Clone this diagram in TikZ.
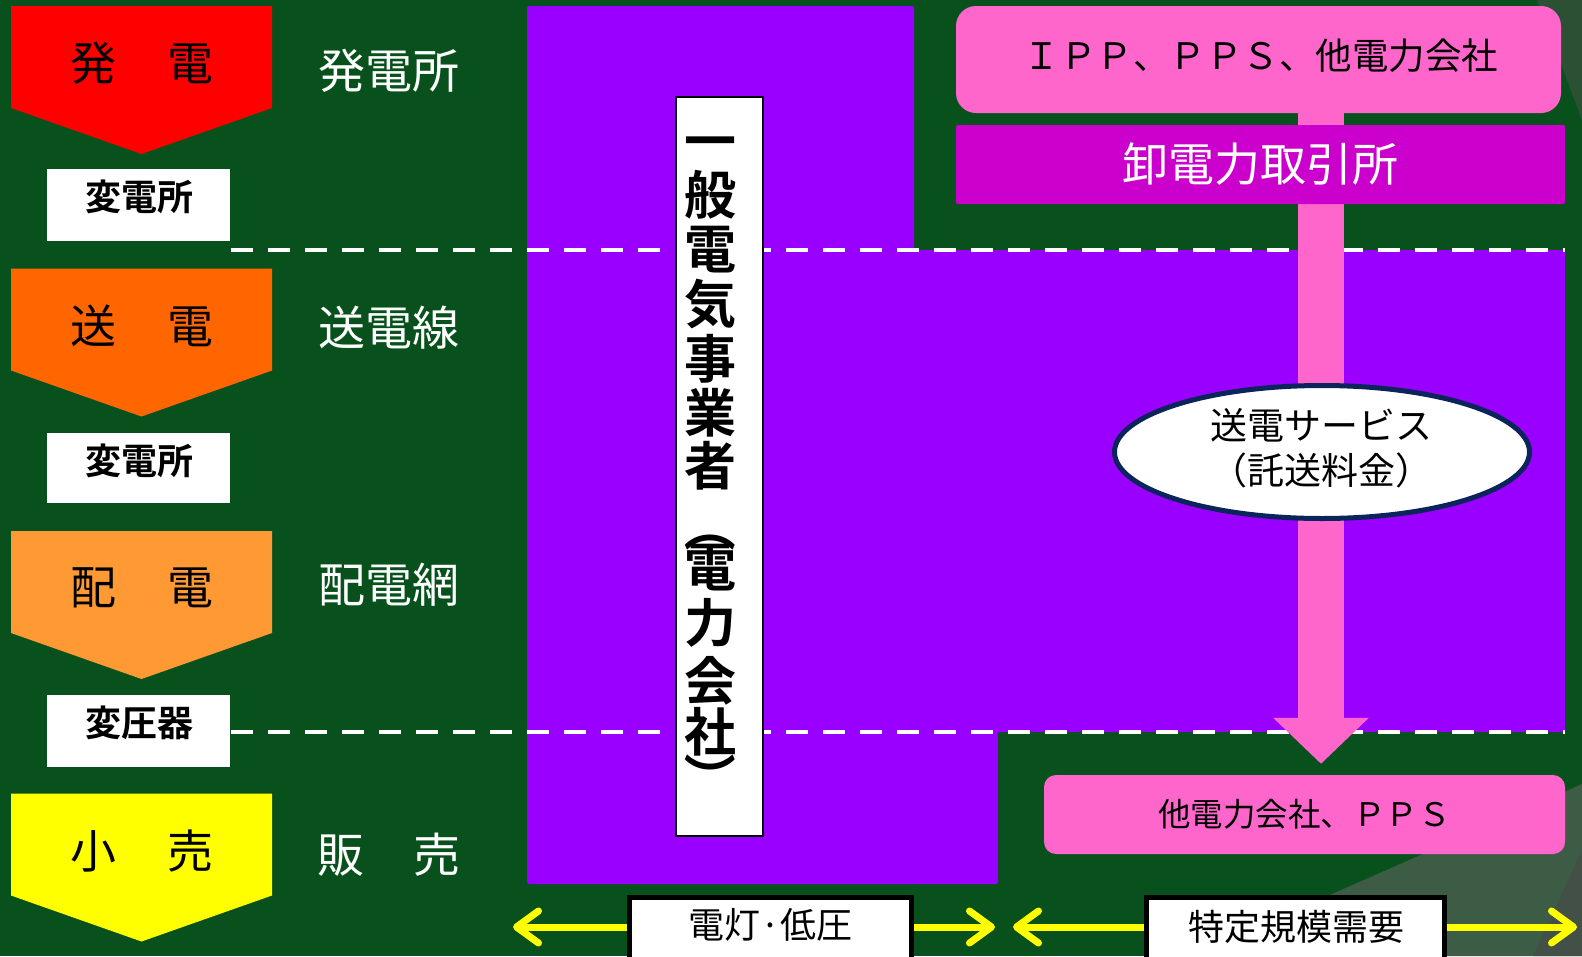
\documentclass[tikz,border=0pt]{standalone}
\usepackage{fontspec}
\setmainfont{Noto Sans CJK JP}[BoldFont={Noto Sans CJK JP Bold}]
\usetikzlibrary{arrows.meta,shapes.geometric}
\definecolor{bggreen}{RGB}{8,81,28}
\definecolor{bglight}{RGB}{61,92,69}
\definecolor{bgdark}{RGB}{66,80,72}
\definecolor{bgtop}{RGB}{44,80,52}
\definecolor{genred}{RGB}{255,0,0}
\definecolor{traorange}{RGB}{255,102,0}
\definecolor{disorange}{RGB}{255,153,51}
\definecolor{retyellow}{RGB}{255,255,0}
\definecolor{epurple}{RGB}{153,0,255}
\definecolor{epink}{RGB}{255,102,204}
\definecolor{emagenta}{RGB}{204,0,204}
\definecolor{enavy}{RGB}{12,36,92}
\newcommand{\fsz}[1]{\fontsize{#1}{#1}\selectfont}
\tikzset{
  stagetext/.style={font=\fsz{46}, text=black, inner sep=0pt},
  sidelabel/.style={font=\fsz{47}, text=white, inner sep=0pt},
  subbox/.style={fill=white, minimum width=183pt, inner sep=0pt},
  subtext/.style={font=\fsz{36}\bfseries, text=black, inner sep=0pt},
  dashline/.style={white, line width=4pt, dash pattern=on 22pt off 15pt},
  pinkbox/.style={fill=epink, inner sep=0pt, text=black},
  vchar/.style={font=\fsz{52}\bfseries, text=black, inner sep=0pt},
  lowbox/.style={fill=white, draw=black, line width=5pt, inner sep=0pt, minimum height=72pt},
  lowtext/.style={font=\fsz{36}, text=black, inner sep=0pt},
  yarrow/.style={draw=retyellow, line width=7pt, -{Straight Barb[length=22pt,width=32pt,round]}},
}
\begin{document}
\begin{tikzpicture}[x=1pt,y=-1pt]
\useasboundingbox (0,0) rectangle (1582,956);
% background
\fill[bggreen] (0,0) rectangle (1582,956);
\fill[bglight] (1191,956) -- (1582,784) -- (1582,956) -- cycle;
\fill[bgdark] (1533,956) -- (1582,850) -- (1582,956) -- cycle;
\fill[bgtop] (1537,0) -- (1582,0) -- (1582,120) -- cycle;
% stage pentagons
\foreach \yy/\cc in {6/genred, 268.5/traorange, 531/disorange, 793.5/retyellow}
  \fill[\cc] (11,\yy) -- (272,\yy) -- (272,\yy+102) -- (141.5,\yy+148) -- (11,\yy+102) -- cycle;
\node[stagetext] (gen) at (142,63) {発\hspace{52pt}電};
\node[stagetext] (tra) at (142,326) {送\hspace{52pt}電};
\node[stagetext] (dis) at (142,588) {配\hspace{52pt}電};
\node[stagetext] (ret) at (142,851) {小\hspace{52pt}売};
% side labels
\node[sidelabel] (lgen) at (389,71) {発電所};
\node[sidelabel] (ltra) at (389,328) {送電線};
\node[sidelabel] (ldis) at (389,585) {配電網};
\node[sidelabel] (lret) at (389,855) {販\hspace{50pt}売};
% substations
\node[subbox, minimum height=72pt] (sub1) at (138.5,205) {};
\node[subbox, minimum height=70pt] (sub2) at (138.5,468) {};
\node[subbox, minimum height=72pt] (sub3) at (138.5,731) {};
\node[subtext] (sub1t) at (139,197) {変電所};
\node[subtext] (sub2t) at (139,461) {変電所};
\node[subtext] (sub3t) at (139,723) {変圧器};
% purple utility area
\fill[epurple, rounded corners=2pt] (527,6) -- (914,6) -- (914,250) -- (1565,250) -- (1565,732)
  -- (998,732) -- (998,884) -- (527,884) -- cycle;
% dashed dividers
\coordinate (d1a) at (231,250);
\coordinate (d1b) at (1565,250);
\coordinate (d2a) at (231,732);
\coordinate (d2b) at (1565,732);
\draw[dashline] (d1a) -- (d1b);
\draw[dashline] (d2a) -- (d2b);
% right side boxes
\node[pinkbox, rounded corners=20pt, minimum width=605pt, minimum height=107pt] (ipp) at (1258.5,59.5) {};
\node[inner sep=0pt, font=\fsz{36.5}] (ippt) at (1261,56) {ＩＰＰ、ＰＰＳ、他電力会社};
\node[pinkbox, rounded corners=12pt, minimum width=521pt, minimum height=79pt, font=\fsz{32.5}]
  (pps) at (1304.5,814.5) {他電力会社、ＰＰＳ};
\coordinate (arrx) at (1321,113);
\draw[epink, line width=46pt, shorten >=11pt, -{Triangle[length=46pt,width=93pt]}]
  (ipp.south -| arrx) -- (pps.north -| arrx);
\node[fill=emagenta, rounded corners=2pt, minimum width=609pt, minimum height=79pt, inner sep=0pt,
  text=white, font=\fsz{46}] (jepx) at (1260.5,164.5) {卸電力取引所};
\node[ellipse, fill=white, draw=enavy, line width=5pt, minimum width=415pt, minimum height=133pt,
  inner sep=0pt] (svc) at (1322,452) {};
\node[inner sep=0pt, align=center, font=\fontsize{37}{45}\selectfont] (svct) at (1321,448)
  {送電サービス\\（託送料金）};
% vertical label
\node[fill=white, draw=black, line width=2pt, minimum width=87pt, minimum height=739pt, inner sep=0pt]
  (vbox) at (719.5,466.5) {};
\foreach \ch/\yy [count=\i] in {一/149, 般/195, 電/250, 気/304, 事/359, 業/413, 者/466,
  電/568, 力/623, 会/681, 社/732}
  \node[vchar] (v\i) at (710,\yy) {\ch};
\node[vchar, rotate=-90] (vlp) at (710,526) {（};
\node[vchar, rotate=-90] (vrp) at (710,778) {）};
% bottom demand labels
\node[lowbox, minimum width=282pt] (low) at (770.5,933.5) {};
\node[lowtext] (lowt) at (770.5,925) {電灯·低圧};
\node[lowbox, minimum width=298pt] (spec) at (1295.5,933.5) {};
\node[lowtext] (spect) at (1296,927) {特定規模需要};
\coordinate (ta) at (513,927);
\coordinate (tb) at (995,927);
\coordinate (tc) at (1013,927);
\coordinate (td) at (1577,927);
\draw[yarrow] (ta -| low.west) -- (ta);
\draw[yarrow] (tb -| low.east) -- (tb);
\draw[yarrow] (tc -| spec.west) -- (tc);
\draw[yarrow] (td -| spec.east) -- (td);
\end{tikzpicture}
\end{document}
